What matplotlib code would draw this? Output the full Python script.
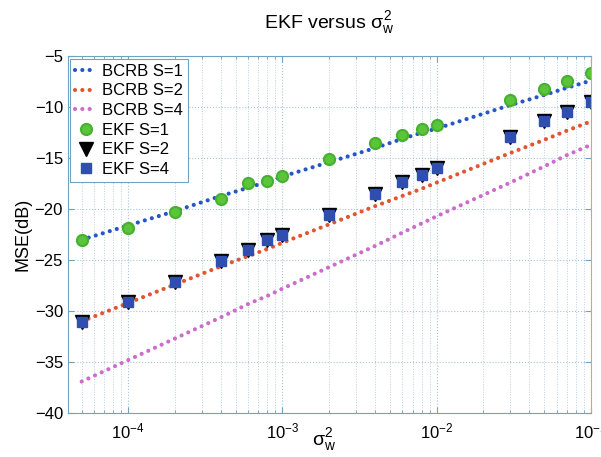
import matplotlib
matplotlib.use("Agg")
import matplotlib.pyplot as plt
from matplotlib.ticker import LogLocator, NullFormatter

plt.rcParams['font.family'] = ['Liberation Sans', 'DejaVu Sans']
plt.rcParams['mathtext.fontset'] = 'custom'
plt.rcParams['mathtext.rm'] = 'Liberation Sans'
plt.rcParams['mathtext.it'] = 'Liberation Sans'

# ---- datos ----
sigma2 = [5e-5, 1e-4, 2e-4, 4e-4, 6e-4, 8e-4, 1e-3, 2e-3, 4e-3, 6e-3, 8e-3,
          1e-2, 3e-2, 5e-2, 7e-2, 1e-1]

bcrb_s1 = [-23.0, -21.6, -20.2, -18.7, -17.9, -17.3, -16.8, -15.4, -14.0, -13.1,
           -12.5, -12.1, -9.8, -8.8, -8.1, -7.4]
bcrb_s2 = [-31.0, -29.2, -27.4, -25.6, -24.6, -23.9, -23.3, -21.5, -19.7, -18.7,
           -18.0, -17.4, -14.5, -13.2, -12.3, -11.4]
bcrb_s4 = [-36.9, -34.8, -32.7, -30.6, -29.3, -28.5, -27.8, -25.7, -23.6, -22.3,
           -21.4, -20.7, -17.4, -15.8, -14.7, -13.7]

ekf_s1 = [-23.0, -21.8, -20.3, -19.05, -17.4, -17.2, -16.7, -15.1, -13.5, -12.7,
          -12.1, -11.7, -9.3, -8.2, -7.4, -6.6]
ekf_s2 = [-31.1, -29.1, -27.1, -25.1, -24.0, -23.0, -22.5, -20.6, -18.5, -17.3,
          -16.6, -16.0, -12.9, -11.4, -10.5, -9.5]
ekf_s4 = [-31.1, -29.1, -27.1, -25.1, -24.0, -23.0, -22.5, -20.6, -18.5, -17.3,
          -16.6, -16.0, -12.9, -11.4, -10.5, -9.5]

yticks = [-40, -35, -30, -25, -20, -15, -10, -5]

# ---- figura ----
fig = plt.figure(figsize=(6.01, 4.57), dpi=100)
ax = fig.add_axes([0.113, 0.096, 0.870, 0.781])

# puntos redondos (estilo ':' grueso de MATLAB)
dots = (0, (0.01, 1.75))
for ys, col, lab in [(bcrb_s1, '#2456c8', 'BCRB S=1'),
                     (bcrb_s2, '#e2552e', 'BCRB S=2'),
                     (bcrb_s4, '#cc6ccc', 'BCRB S=4')]:
    ax.plot(sigma2, ys, color=col, lw=3.0, linestyle=dots,
            dash_capstyle='round', label=lab)

ax.plot(sigma2, ekf_s1, 'o', color='#5cc43a', mec='#46b030', mew=1.5, ms=8,
        label='EKF S=1')
ax.plot(sigma2, ekf_s2, 'v', color='black', ms=10, label='EKF S=2')
ax.plot(sigma2, ekf_s4, 's', color='#2f4eb0', mec='#2f4eb0', ms=7.5,
        label='EKF S=4')

ax.set_xscale('log')
ax.set_xlim(4.07e-5, 1e-1)
ax.set_ylim(-40, -5)
ax.set_yticks(yticks)
ax.set_yticklabels([str(v).replace('-', '\u2212') for v in yticks])
ax.xaxis.set_major_locator(LogLocator(base=10))
ax.xaxis.set_minor_locator(LogLocator(base=10, subs=range(2, 10)))
ax.xaxis.set_minor_formatter(NullFormatter())

ax.grid(True, which='major', linestyle=':', color='#a8c4d8', lw=0.8)
ax.grid(True, which='minor', axis='x', linestyle=':', color='#b8d0e0', lw=0.7)
ax.set_axisbelow(True)

for s in ['left', 'top', 'bottom']:
    ax.spines[s].set_color('#6fa3c0')
ax.spines['right'].set_color('#e89a70')
ax.tick_params(which='both', direction='in', top=True, right=True,
               colors='#6fa3c0', labelcolor='black', labelsize=12)
ax.tick_params(which='major', length=4)
ax.tick_params(which='minor', length=2.5)
ax.tick_params(axis='x', which='major', pad=6)

ax.set_title(r'EKF versus $\sigma_w^2$', fontsize=14, pad=20)
ax.set_xlabel(r'$\sigma_w^2$', fontsize=14)
ax.xaxis.set_label_coords(0.49, -0.035)
ax.set_ylabel('MSE(dB)', fontsize=13, labelpad=2)

leg = ax.legend(loc='upper left', fontsize=12, handlelength=1.3,
                handletextpad=0.3, labelspacing=0.28, borderpad=0.3,
                fancybox=False, framealpha=1, borderaxespad=0.15)
leg.get_frame().set_edgecolor('#6fa3c0')
leg.get_frame().set_linewidth(0.8)

fig.savefig('out.png', dpi=100)
